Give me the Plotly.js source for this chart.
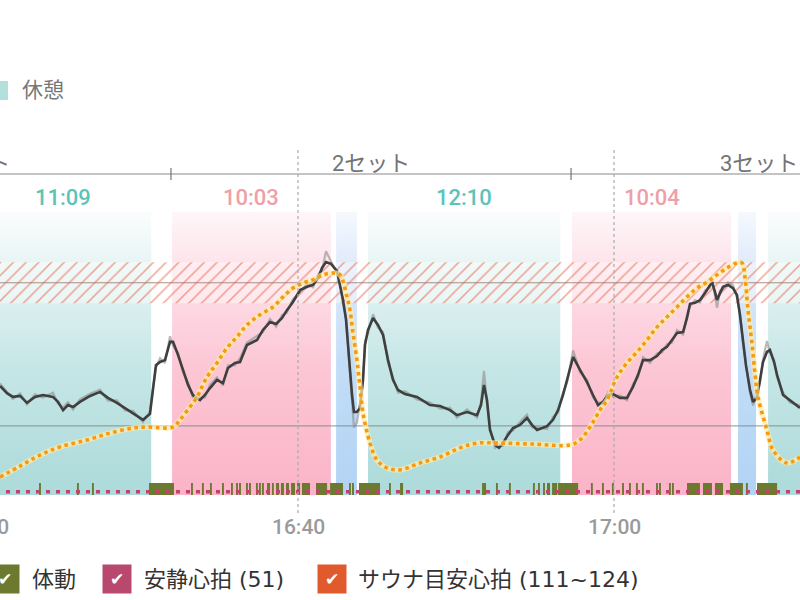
<!DOCTYPE html>
<html><head><meta charset="utf-8">
<script src="https://cdn.plot.ly/plotly-3.0.1.min.js"></script>
<style>html,body{margin:0;padding:0;background:#fff}#chart{width:800px;height:600px}</style>
</head><body><div id="chart"></div>
<script>
// time in minutes after 16:00, heart rate in bpm
const hrTimes = [21.14,21.58,21.96,22.41,22.85,23.35,23.86,24.49,24.81,25.13,
25.44,25.76,26.20,26.84,27.47,27.97,28.54,29.05,29.56,30.19,
30.63,30.82,31.01,31.27,31.58,31.90,32.09,32.41,32.72,33.04,
33.35,33.80,34.11,34.43,34.87,35.25,35.57,36.01,36.33,36.77,
37.41,37.78,38.23,38.61,38.99,39.30,39.68,40.13,40.57,40.95,
41.27,41.52,41.77,42.09,42.47,42.66,42.85,43.04,43.16,43.29,
43.42,43.54,43.73,43.92,44.11,44.24,44.43,44.75,45.06,45.38,
45.70,46.01,46.33,46.77,47.53,48.35,48.99,49.62,50.06,50.70,
51.33,51.58,51.77,51.96,52.15,52.47,52.72,52.97,53.29,53.61,
54.05,54.49,54.81,55.13,55.76,56.14,56.46,56.77,57.03,57.41,
57.85,58.29,58.67,58.99,59.30,59.62,59.94,60.38,60.82,61.20,
61.52,61.84,62.28,62.72,63.04,63.35,63.67,63.99,64.37,64.62,
64.81,65.13,65.44,65.76,66.08,66.20,66.39,66.52,66.71,66.90,
67.22,67.53,67.78,67.97,68.16,68.35,68.61,68.80,69.05,69.24,
69.43,69.68,69.87,70.13,70.32,70.70,71.14,71.77];
const hrValues = [84.7,82.4,81.2,81.5,79.3,81.2,81.8,81.2,79.6,77.0,
78.6,78.0,79.6,81.5,82.8,80.9,79.3,77.7,76.1,73.9,
75.8,82.8,91.3,92.3,92.9,98.7,98.7,94.5,89.8,85.0,
81.8,80.2,81.8,84.0,86.6,85.6,90.4,92.0,92.3,97.7,
99.3,102.5,105.0,104.4,106.3,108.8,111.4,115.2,116.2,116.8,
119.0,122.2,124.1,123.5,121.2,116.8,112.0,105.7,99.3,89.8,
81.8,76.4,76.4,77.7,86.6,97.7,102.5,106.3,104.1,100.9,
92.9,86.6,83.4,82.1,81.2,78.6,78.3,77.0,75.4,76.4,
75.4,78.6,85.0,80.2,70.7,65.9,65.0,66.5,69.1,71.3,
72.3,74.5,72.3,70.7,71.9,73.9,77.0,81.8,86.6,93.9,
89.8,85.9,81.8,78.6,79.6,81.8,82.1,80.9,80.9,84.4,
88.2,92.9,92.9,94.2,96.1,97.1,99.3,101.5,101.8,106.3,
110.8,111.1,112.0,114.2,116.8,117.7,114.6,112.0,114.2,116.2,
116.8,115.8,113.6,107.3,99.3,91.3,83.4,79.6,80.9,86.6,
92.3,95.5,96.1,92.3,88.2,81.8,80.2,77.7];
const hrRawValues = [85.5,83.0,80.5,82.3,78.8,82.0,81.0,82.5,79.0,77.8,
79.5,77.2,80.4,82.2,83.5,80.0,80.1,76.9,76.8,73.2,
76.6,84.0,90.5,93.5,92.0,100.5,97.5,95.2,89.0,85.8,
81.0,81.0,81.0,85.0,87.4,84.8,91.2,91.2,93.5,98.5,
100.5,101.8,106.0,103.5,107.2,108.0,112.3,114.4,117.2,116.0,
120.0,121.5,127.5,124.5,120.5,117.5,111.0,106.5,98.5,88.0,
80.5,71.5,73.0,79.5,85.5,99.0,101.5,107.5,103.2,101.8,
92.0,87.5,82.5,83.0,80.4,79.4,77.5,77.8,74.6,77.2,
74.6,79.5,89.5,79.4,71.5,65.0,65.8,65.7,70.0,70.5,
73.2,75.5,71.5,71.5,71.0,74.8,76.2,82.6,85.8,96.0,
89.0,86.7,81.0,79.5,78.8,82.6,81.3,81.7,80.1,85.2,
87.4,93.8,92.0,95.0,95.3,98.0,98.5,102.5,101.0,107.2,
110.0,112.0,111.2,115.0,116.0,119.0,113.8,109.5,115.0,115.5,
117.6,116.8,112.8,108.0,98.5,92.0,82.5,78.5,82.5,85.8,
93.2,99.0,95.2,93.0,87.4,82.6,79.4,78.5];
const trendTimes = [21.14,22.41,23.67,24.94,26.65,28.10,29.56,30.44,32.09,32.53,
33.16,33.61,34.24,34.87,35.51,36.14,36.77,37.59,38.42,39.05,
39.68,40.32,40.95,41.58,42.22,42.66,43.10,43.29,43.48,43.73,
43.92,44.11,44.56,45.00,45.63,46.46,47.72,48.99,50.25,51.33,
52.78,54.87,57.22,57.85,58.48,59.11,59.56,60.19,60.82,61.46,
62.09,62.72,63.35,63.99,64.62,65.25,65.89,66.52,67.15,67.78,
68.10,68.29,68.48,68.73,68.92,69.11,69.68,70.06,70.95,71.77];
const trendValues = [55.7,59.2,62.7,65.3,67.5,69.7,71.3,71.6,71.6,73.9,
78.0,81.2,87.5,92.0,96.8,100.3,104.1,107.3,109.8,113.0,
115.8,117.4,118.4,120.0,120.6,120.0,113.0,108.8,101.5,92.9,
84.4,76.1,66.5,61.1,58.6,58.0,60.2,62.1,65.0,66.5,
66.5,66.2,65.9,67.5,71.6,77.0,80.2,87.5,92.0,95.5,
99.3,103.4,106.6,109.8,113.0,115.8,117.7,120.0,122.2,123.8,
123.8,119.3,108.8,98.3,88.8,81.2,70.7,64.3,60.2,62.1];
const moveStarts = [23.61,26.01,26.96,30.57,33.23,33.92,34.43,35.19,35.76,36.08,
36.27,36.71,36.90,37.34,37.53,37.72,38.04,38.35,38.61,38.92,
39.24,39.56,39.94,40.25,41.14,42.03,43.23,43.42,43.86,45.76,
46.46,51.65,52.53,53.35,54.87,55.19,55.51,55.76,56.08,56.46,
58.54,59.24,59.87,60.51,60.95,61.39,61.77,62.66,62.85,63.48,
63.67,64.62,65.63,66.39,67.34,68.35,69.05];
const moveDurations = [0.12,0.12,0.12,1.58,0.12,0.12,0.12,0.12,0.12,0.12,
0.12,0.12,0.12,0.12,0.12,0.12,0.19,0.12,0.19,0.19,
0.19,0.25,0.19,0.51,0.70,0.82,0.12,0.12,1.33,0.12,
0.19,0.25,0.12,0.12,0.12,0.12,0.12,0.19,0.32,1.27,
0.12,0.12,0.12,0.12,0.12,0.12,0.12,0.12,0.12,0.12,
0.12,0.82,0.57,0.51,0.82,0.12,1.27];
const moveLevel = 3.8;
const restingHr = 51;
const saunaTarget = [111, 124];
const targetMid = 117.5;
const averageHr = 72;
const phaseKinds = ['rest','sauna','water','rest','sauna','water','rest'];
const phaseStarts = [19.56,32.03,42.41,44.43,57.34,67.85,69.75];
const phaseEnds   = [30.71,42.08,43.73,56.60,67.41,68.99,90.00];
const phaseLabels = ['11:09','10:03','','12:10','10:04','',''];
const setNames  = ['1セット','2セット','3セット'];
const setStarts = [6.64,31.96,57.28];
const setEnds   = [31.96,57.28,81.08];
const tickValues = [20,40,60];
const tickTexts  = ['16:20','16:40','17:00'];
const legendNames = ['体動','安静心拍 (51)','サウナ目安心拍 (111~124)'];
const legendColors = ['#6b7a2f','#b8486e','#e05a2e'];

const X0 = 21.139, X1 = 71.772, Y0 = 50, Y1 = 140;
const FONT = "Roboto, 'Noto Sans CJK JP', sans-serif";
const LFONT = "'DejaVu Sans', 'Noto Sans CJK JP', sans-serif";
const px = t => (t - X0) / (X1 - X0);

const phaseStyle = {
  rest:  {scale: [[0,'#acdada'],[0.45,'#c6e6e6'],[0.8,'#e6f4f4'],[1,'#fbfdfd']], label:'#5cc3b9'},
  sauna: {scale: [[0,'#fbb3c8'],[0.45,'#fcc6d5'],[0.8,'#fde2ea'],[1,'#fef6f8']], label:'#eea0a8'},
  water: {scale: [[0,'#b1d3f4'],[0.45,'#c2ddf7'],[0.8,'#dde9fa'],[1,'#f5f9fe']], label:'#8fb8e8'}
};

const traces = [];
phaseKinds.forEach((k, i) => {
  const s = phaseStarts[i], e = phaseEnds[i];
  traces.push({type:'scatter', mode:'none', x:[s,e,e,s,s], y:[Y0,Y0,Y1,Y1,Y0],
    fill:'toself', fillgradient:{type:'vertical', colorscale: phaseStyle[k].scale},
    hoverinfo:'skip'});
});
// sauna target band (hatched)
traces.push({type:'scatter', mode:'none', x:[0,100,100,0,0],
  y:[saunaTarget[0],saunaTarget[0],saunaTarget[1],saunaTarget[1],saunaTarget[0]],
  fill:'toself', fillcolor:'rgba(255,255,255,0.35)',
  fillpattern:{shape:'/', fgcolor:'rgba(230,100,70,0.6)', bgcolor:'rgba(255,255,255,0.4)', size:9, solidity:0.17},
  hoverinfo:'skip'});
traces.push({type:'scatter', mode:'lines', x:[0,100], y:[targetMid,targetMid],
  line:{color:'rgba(160,125,115,0.85)', width:1.2}, hoverinfo:'skip'});
traces.push({type:'scatter', mode:'lines', x:[0,100], y:[averageHr,averageHr],
  line:{color:'rgba(130,140,140,0.75)', width:1.2}, hoverinfo:'skip'});
// movement (as filled rectangles so they sit above the phase fills)
const mvX = [], mvY = [];
moveStarts.forEach((s, i) => {
  const e = s + moveDurations[i];
  mvX.push(s, e, e, s, s, null);
  mvY.push(Y0, Y0, Y0 + moveLevel, Y0 + moveLevel, Y0, null);
});
traces.push({type:'scatter', mode:'none', x:mvX, y:mvY, fill:'toself', fillcolor:legendColors[0], hoverinfo:'skip'});
// resting HR
traces.push({type:'scatter', mode:'lines', x:[0,100], y:[restingHr,restingHr],
  line:{color:'#c2416d', width:3.5, dash:'4px,6px'}, hoverinfo:'skip'});
// raw & smoothed HR
traces.push({type:'scatter', mode:'lines', x:hrTimes, y:hrRawValues,
  line:{color:'rgba(140,140,140,0.6)', width:2.2}, hoverinfo:'skip'});
traces.push({type:'scatter', mode:'lines', x:hrTimes, y:hrValues,
  line:{color:'#3f3f3f', width:2.6}, hoverinfo:'skip'});
// trend (orange dotted)
traces.push({type:'scatter', mode:'lines', x:trendTimes, y:trendValues,
  line:{color:'rgba(255,236,170,0.7)', width:5.5, shape:'spline'}, hoverinfo:'skip'});
traces.push({type:'scatter', mode:'lines', x:trendTimes, y:trendValues,
  line:{color:'#f59a12', width:3.6, dash:'dot', shape:'spline'}, hoverinfo:'skip'});

// paper y for a given pixel row
const plotTop = 212, plotBottom = 495;
const py = p => (plotBottom - p) / (plotBottom - plotTop);

const shapes = [];
const annotations = [];
shapes.push({type:'line', xref:'paper', yref:'paper', x0:0, x1:1, y0:py(174), y1:py(174),
  line:{color:'#8a8a8a', width:1.2}});
setStarts.forEach(s => shapes.push({type:'line', xref:'x', yref:'paper', x0:s, x1:s, y0:py(168), y1:py(180),
  line:{color:'#777', width:1.2}}));
setNames.forEach((n, i) => annotations.push({xref:'paper', yref:'paper', x:px((setStarts[i]+setEnds[i])/2), y:py(163),
  text:n, showarrow:false, xanchor:'center', yanchor:'middle', font:{family:FONT, size:22, color:'#747474'}}));
phaseLabels.forEach((l, i) => { if (!l) return;
  annotations.push({xref:'paper', yref:'paper', x:px((phaseStarts[i]+phaseEnds[i])/2), y:py(197),
    text:l, showarrow:false, xanchor:'center', yanchor:'middle',
    font:{family:FONT, size:22, weight:500, color:phaseStyle[phaseKinds[i]].label}});
});
tickValues.forEach(v => { if (v < X0) return;
  shapes.push({type:'line', xref:'x', yref:'paper', x0:v, x1:v, y0:py(513), y1:py(150), layer:'above',
    line:{color:'rgba(170,170,170,0.8)', width:1.5, dash:'dot'}});
});
tickValues.forEach((v, i) => annotations.push({xref:'paper', yref:'paper', x:px(v), y:py(527),
  text:tickTexts[i], showarrow:false, xanchor:'center', yanchor:'middle', font:{family:FONT, size:21, weight:500, color:'#9a9a9a'}}));
// top legend (休憩)
shapes.push({type:'rect', xref:'paper', yref:'paper', x0:-12/800, x1:8/800, y0:py(100), y1:py(81),
  fillcolor:'#b3e0dc', line:{width:0}});
annotations.push({xref:'paper', yref:'paper', x:20/800, y:py(90), text:'休憩', showarrow:false,
  xanchor:'left', yanchor:'middle', font:{family:FONT, size:21, color:'#777'}});
// bottom legend
const boxCenters = [5, 117, 332], textLefts = [30, 142, 356];
legendNames.forEach((n, i) => {
  annotations.push({xref:'paper', yref:'paper', x:boxCenters[i]/800, y:py(579), text:'✔', showarrow:false,
    xanchor:'center', yanchor:'middle', width:27, height:27, borderpad:0.5, bgcolor:legendColors[i],
    font:{family:'DejaVu Sans', size:17, color:'#ffffff'}});
  annotations.push({xref:'paper', yref:'paper', x:textLefts[i]/800, y:py(579), text:n, showarrow:false,
    xanchor:'left', yanchor:'middle', font:{family:LFONT, size:22, color:'#333'}});
});

const layout = {
  width:800, height:600, margin:{l:0, r:0, t:plotTop, b:600-plotBottom},
  paper_bgcolor:'#fff', plot_bgcolor:'#fff', showlegend:false,
  xaxis:{range:[X0, X1], showgrid:false, zeroline:false, showline:false, showticklabels:false, ticks:'',
    tickvals:tickValues, ticktext:tickTexts, fixedrange:true},
  yaxis:{range:[Y0, Y1], showgrid:false, zeroline:false, showline:false, showticklabels:false, ticks:'', fixedrange:true},
  shapes, annotations, font:{family:FONT}
};
Plotly.newPlot('chart', traces, layout, {displayModeBar:false, staticPlot:true});
</script></body></html>
